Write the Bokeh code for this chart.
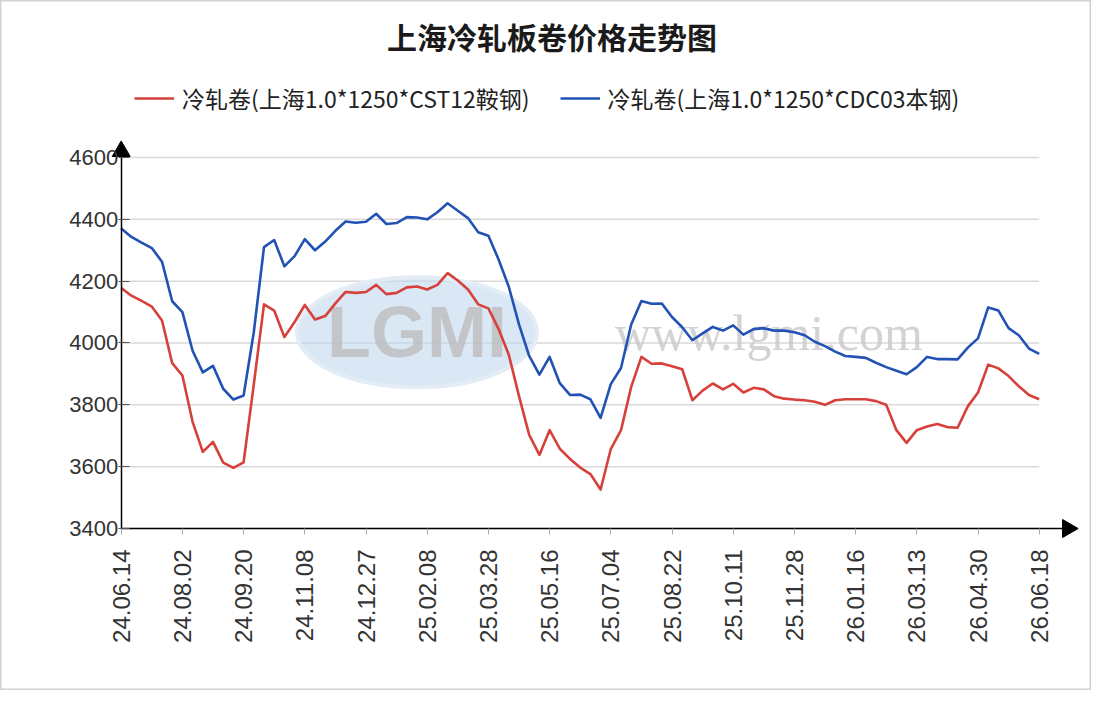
import math
from bokeh.plotting import figure
from bokeh.models import Range1d, Legend, LegendItem, Label, FixedTicker
from bokeh.embed import file_html
from bokeh.resources import INLINE

title_text = "上海冷轧板卷价格走势图"
series_names = ["冷轧卷(上海1.0*1250*CST12鞍钢)", "冷轧卷(上海1.0*1250*CDC03本钢)"]
tick_labels = ["24.06.14", "24.08.02", "24.09.20", "24.11.08", "24.12.27", "25.02.08",
               "25.03.28", "25.05.16", "25.07.04", "25.08.22", "25.10.11", "25.11.28",
               "26.01.16", "26.03.13", "26.04.30", "26.06.18"]
points_per_label = 6
y_ticks = [3400, 3600, 3800, 4000, 4200, 4400, 4600]

cst12_ansteel = [
    4178, 4153, 4136, 4118, 4073, 3935, 3895, 3745, 3648, 3680, 3613, 3596,
    3614, 3866, 4125, 4105, 4019, 4068, 4123, 4076, 4087, 4128, 4165, 4162,
    4165, 4188, 4158, 4162, 4180, 4183, 4173, 4188, 4226, 4202, 4173, 4125,
    4112, 4045, 3962, 3828, 3703, 3638, 3718, 3658, 3625, 3597, 3576, 3526,
    3657, 3718, 3858, 3955, 3933, 3934, 3925, 3915, 3815, 3846, 3869, 3850,
    3868, 3840, 3855, 3850, 3828, 3820, 3817, 3815, 3810, 3800, 3815, 3818,
    3818, 3818, 3812, 3800, 3718, 3677, 3718, 3730, 3738, 3728, 3726, 3795,
    3840, 3930, 3918, 3893, 3860, 3832, 3818]

cdc03_bengang = [
    4370, 4343, 4325, 4307, 4263, 4135, 4100, 3975, 3905, 3926, 3852, 3817,
    3830, 4035, 4310, 4333, 4248, 4281, 4336, 4300, 4328, 4363, 4393, 4389,
    4392, 4418, 4385, 4388, 4407, 4406, 4400, 4423, 4452, 4428, 4404, 4358,
    4347, 4270, 4182, 4060, 3958, 3898, 3955, 3870, 3832, 3833, 3818, 3758,
    3867, 3919, 4060, 4136, 4127, 4128, 4084, 4051, 4009, 4031, 4052, 4040,
    4057, 4027, 4045, 4048, 4040, 4040, 4035, 4025, 4004, 3990, 3972, 3958,
    3955, 3952, 3936, 3922, 3910, 3899, 3922, 3955, 3948, 3948, 3947, 3985,
    4015, 4115, 4105, 4048, 4025, 3982, 3965]

idx = list(range(len(cst12_ansteel)))
last = len(idx) - 1

CJK = "Noto Sans CJK SC"
LAT = "Liberation Sans"

W, H = 1091, 690
PX_X = 10.2            # pixels per category step
PX_Y = 1 / 3.2345      # pixels per price unit
LEFT, BASE = 120.7, 528.0   # canvas position of (index 0, 3400)

x_lo = -LEFT / PX_X
x_hi = (W - LEFT) / PX_X
y_lo = y_ticks[0] - (H - BASE) / PX_Y
y_hi = y_ticks[0] + BASE / PX_Y

x_arrow = last + 2.8       # centre of the x-axis arrow head
y_arrow = 4620             # centre of the y-axis arrow head

p = figure(width=W, height=H, output_backend="svg", toolbar_location=None,
           title=None, x_range=Range1d(x_lo, x_hi), y_range=Range1d(y_lo, y_hi),
           min_border=0, background_fill_color="white", border_fill_color="white")
p.outline_line_color = "#d2d2d2"
p.outline_line_width = 2

# horizontal grid lines, only across the data span
p.xgrid.visible = False
p.ygrid.visible = False
p.segment(x0=[0] * len(y_ticks), x1=[last] * len(y_ticks), y0=y_ticks, y1=y_ticks,
          line_color="#d9d9d9", line_width=1.5, level="underlay")

# watermark
p.ellipse(x=[29], y=[4035], width=240, height=110, width_units="screen",
          height_units="screen", fill_color="#c2d7ef", fill_alpha=0.6,
          line_color="#e4ecf5", line_width=4, level="underlay")
p.add_layout(Label(x=29, y=4035, text="LGMI", text_align="center",
                   text_baseline="middle", text_font=LAT, text_font_size="72px",
                   text_font_style="bold", text_color="#bdbdbd", text_alpha=0.8,
                   level="underlay"))
p.add_layout(Label(x=63.5, y=4033, text="www.lgmi.com", text_align="center",
                   text_baseline="middle", text_font="Liberation Serif",
                   text_font_size="50px", text_color="#c8c8c8", text_alpha=0.8,
                   level="underlay"))

r1 = p.line(idx, cst12_ansteel, line_color="#d6413b", line_width=2.6,
            line_join="round")
r2 = p.line(idx, cdc03_bengang, line_color="#2352b5", line_width=2.6,
            line_join="round")

# title
p.add_layout(Label(x=(W / 2 + 6 - LEFT) / PX_X, y=y_ticks[0] + (BASE - 35) / PX_Y,
                   text=title_text, text_align="center", text_baseline="middle",
                   text_font=CJK, text_font_size="30px", text_font_style="bold",
                   text_color="#1a1a1a"))

legend = Legend(items=[LegendItem(label=series_names[0], renderers=[r1]),
                       LegendItem(label=series_names[1], renderers=[r2])],
                orientation="horizontal", location=(132, 573),
                label_text_font=CJK, label_text_font_size="23px",
                label_text_color="#222222", glyph_width=40, glyph_height=20,
                spacing=30, label_standoff=8, border_line_alpha=0,
                background_fill_alpha=0, padding=2, margin=0)
p.add_layout(legend, "center")

# axes drawn at the data origin
p.yaxis.fixed_location = 0
p.yaxis.bounds = (y_ticks[0], y_arrow)
p.yaxis.ticker = FixedTicker(ticks=y_ticks)
p.yaxis.axis_line_color = "black"
p.yaxis.axis_line_width = 1.5
p.yaxis.major_tick_line_color = "#555555"
p.yaxis.major_tick_in = 8
p.yaxis.major_tick_out = 3
p.yaxis.minor_tick_line_color = None
p.yaxis.major_label_standoff = 0
p.yaxis.major_label_text_font = LAT
p.yaxis.major_label_text_font_size = "22px"
p.yaxis.major_label_text_color = "#333333"

p.xaxis.fixed_location = y_ticks[0]
p.xaxis.bounds = (0, x_arrow)
p.xaxis.ticker = FixedTicker(ticks=list(range(0, len(idx), points_per_label)))
p.xaxis.major_label_overrides = {i * points_per_label: lab for i, lab in enumerate(tick_labels)}
p.xaxis.major_label_orientation = math.pi / 2
p.xaxis.axis_line_color = "black"
p.xaxis.axis_line_width = 1.5
p.xaxis.major_tick_line_color = "#aaaaaa"
p.xaxis.major_tick_in = 0
p.xaxis.major_tick_out = 6
p.xaxis.minor_tick_line_color = None
p.xaxis.major_label_standoff = 15
p.xaxis.major_label_text_font = LAT
p.xaxis.major_label_text_font_size = "24px"
p.xaxis.major_label_text_color = "#333333"

# arrow heads at the ends of both axes
p.scatter(x=[0], y=[y_arrow], marker="triangle", size=18,
          fill_color="black", line_color="black")
p.scatter(x=[x_arrow], y=[y_ticks[0]], marker="triangle", size=18,
          angle=-math.pi / 2, fill_color="black", line_color="black")

open("out.html", "w").write(file_html(p, INLINE))
